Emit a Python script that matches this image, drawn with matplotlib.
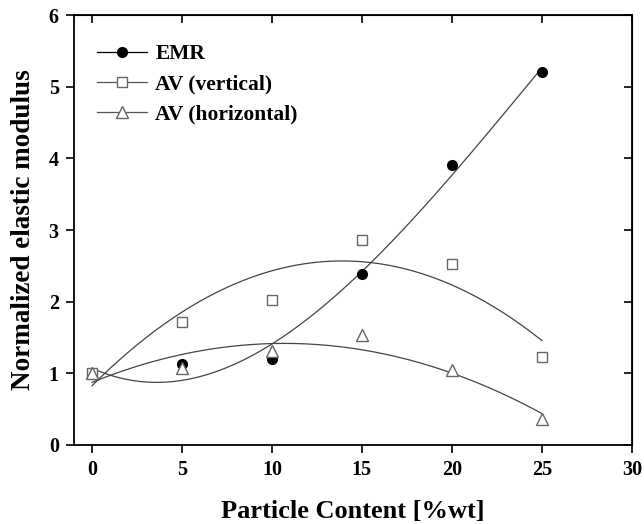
import numpy as np
import matplotlib

matplotlib.use("Agg")
import matplotlib.pyplot as plt

# particle content [%wt]
content = [0, 5, 10, 15, 20, 25]

# normalized elastic modulus
emr = [1.00, 1.13, 1.20, 2.38, 3.91, 5.21]
av_vertical = [1.00, 1.72, 2.02, 2.86, 2.53, 1.23]
av_horizontal = [1.00, 1.07, 1.31, 1.53, 1.05, 0.36]

plt.rcParams["font.family"] = ["Liberation Serif", "DejaVu Serif"]
plt.rcParams["font.weight"] = "bold"

fig = plt.figure(figsize=(6.44, 5.24), dpi=100)
ax = fig.add_axes([0.115, 0.151, 0.866, 0.820])

xs = np.linspace(0, 25, 200)
series = [
    ("EMR", emr, 3, dict(marker="o", color="black", markerfacecolor="black",
                          markeredgecolor="black", markersize=7)),
    ("AV (vertical)", av_vertical, 2, dict(marker="s", color="#555555",
                                            markerfacecolor="white",
                                            markeredgecolor="#666666",
                                            markersize=6.5)),
    ("AV (horizontal)", av_horizontal, 2, dict(marker="^", color="#555555",
                                                markerfacecolor="white",
                                                markeredgecolor="#666666",
                                                markersize=8)),
]

for label, vals, deg, style in series:
    # trend line: least-squares polynomial through the measured points
    coef = np.polyfit(content, vals, deg)
    ax.plot(xs, np.polyval(coef, xs), color="#444444", linewidth=0.9)
    ax.plot(content, vals, linestyle="none", markeredgewidth=1.0,
            **{k: v for k, v in style.items() if k != "color"})
    # legend proxy: line + marker
    ax.plot([], [], label=label, linewidth=0.9, color=style["color"],
            marker=style["marker"], markerfacecolor=style["markerfacecolor"],
            markeredgecolor=style["markeredgecolor"],
            markersize=style["markersize"])

ax.set_xlim(-1, 30)
ax.set_ylim(0, 6)
ax.set_xticks(range(0, 31, 5))
ax.set_yticks(range(0, 7))
ax.tick_params(direction="out", length=6, width=1.2, labelsize=14.5, pad=5)
for lbl in ax.get_xticklabels() + ax.get_yticklabels():
    lbl.set_fontweight("bold")
for s in ax.spines.values():
    s.set_linewidth(1.3)

top = ax.secondary_xaxis("top")
top.set_xticks(range(0, 31, 5))
top.tick_params(direction="in", length=6, width=1.2, labeltop=False)
right = ax.secondary_yaxis("right")
right.set_yticks(range(0, 7))
right.tick_params(direction="in", length=6, width=1.2, labelright=False)

ax.set_xlabel("Particle Content [%wt]", fontsize=19, fontweight="bold",
              labelpad=14)
ax.set_ylabel("Normalized elastic modulus", fontsize=19.5, fontweight="bold",
              labelpad=9)

ax.legend(loc="upper left", bbox_to_anchor=(0.026, 0.953), borderaxespad=0,
          frameon=False, handlelength=2.3, handletextpad=0.4,
          labelspacing=0.47, prop=dict(weight="bold", size=15.5))

fig.savefig("out.png", dpi=100)
